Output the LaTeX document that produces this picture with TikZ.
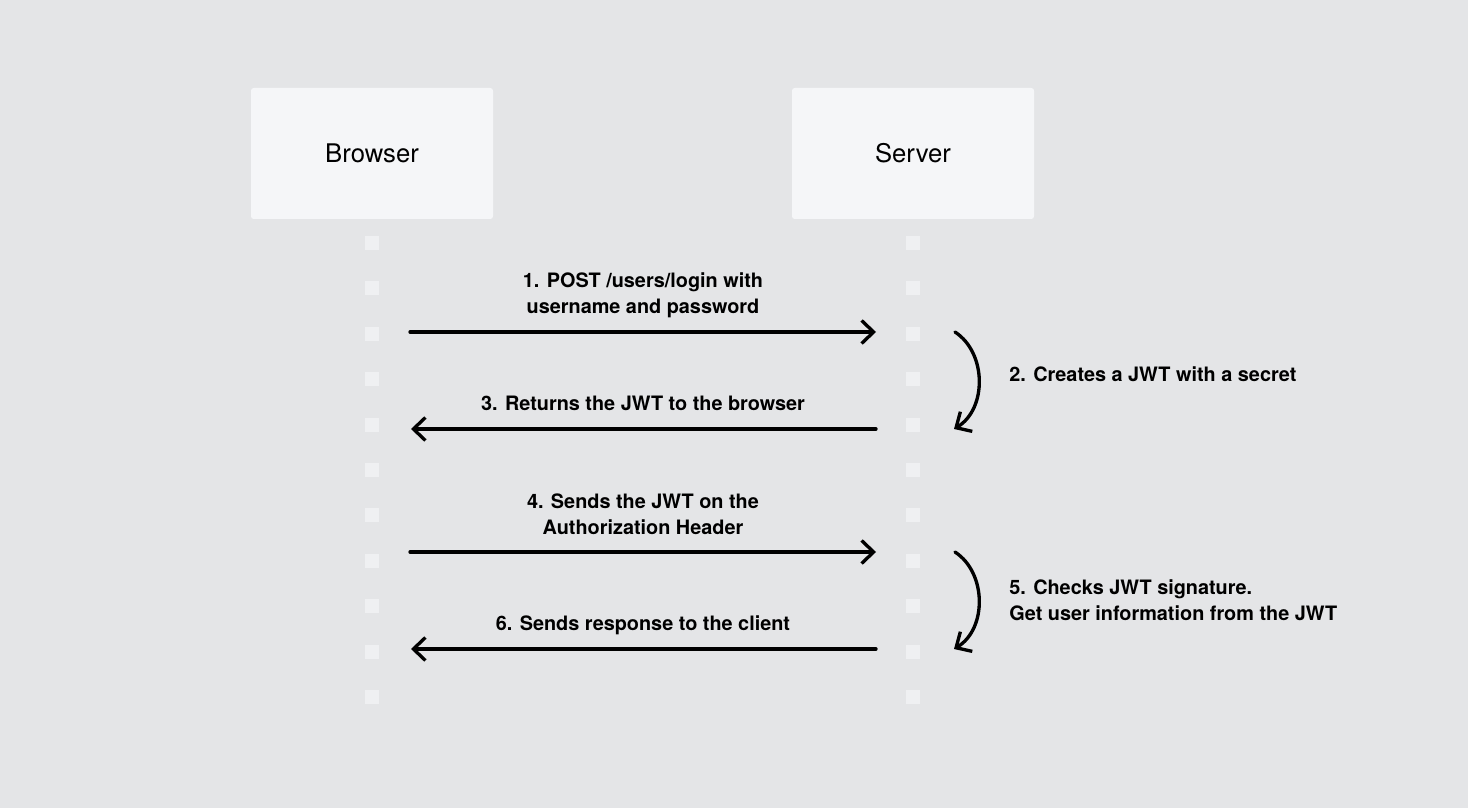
\documentclass[tikz,border=0pt]{standalone}
\usepackage{fontspec}
\setmainfont{TeX Gyre Heros}
\usetikzlibrary{arrows.meta}
\definecolor{pozadina}{HTML}{E4E5E7}
\definecolor{kutija}{HTML}{F5F6F8}
\definecolor{tacka}{HTML}{EFF0F2}
\tikzset{
    actor/.style={fill=kutija, rounded corners=1.5pt, minimum width=4.84cm,
        minimum height=2.62cm, font=\fontsize{14.6}{17}\selectfont},
    msg/.style={-{Straight Barb[length=2.4mm, width=4.6mm]}, line width=1.9pt,
        line cap=round, line join=round},
    msglabel/.style={font=\fontsize{11.3}{14.8}\selectfont\bfseries, align=center},
    notelabel/.style={font=\fontsize{11.3}{14.8}\selectfont\bfseries, align=left,
        anchor=west, inner sep=0pt}
}
\begin{document}
\begin{tikzpicture}
    % pozadina i okvir slike
    \fill [pozadina] (0,0) rectangle (29.36,16.16);
    \useasboundingbox (0,0) rectangle (29.36,16.16);
    % akteri
    \node [actor] (browser) at (7.44,13.09) {Browser};
    \node [actor] (server) at (18.26,13.09) {Server};
    % isprekidane linije zivota
    \foreach \k in {0,...,10}{
        \fill [tacka] (7.30,11.16-\k*0.908) rectangle ++(0.28,0.28);
        \fill [tacka] (18.12,11.16-\k*0.908) rectangle ++(0.28,0.28);
    }
    % krajevi poruka
    \coordinate (b1) at (8.20,9.52);  \coordinate (s1) at (17.52,9.52);
    \coordinate (b3) at (8.22,7.58);  \coordinate (s3) at (17.52,7.58);
    \coordinate (b4) at (8.20,5.12);  \coordinate (s4) at (17.52,5.12);
    \coordinate (b6) at (8.22,3.18);  \coordinate (s6) at (17.52,3.18);
    \coordinate (p2) at (19.10,9.52); \coordinate (k2) at (19.08,7.58);
    \coordinate (p5) at (19.10,5.12); \coordinate (k5) at (19.08,3.18);
    % poruke
    \draw [msg] (b1) -- (s1);
    \draw [msg] (s3) -- (b3);
    \draw [msg] (b4) -- (s4);
    \draw [msg] (s6) -- (b6);
    \draw [msg] (p2) .. controls (19.74,9.10) and (19.74,7.98) .. (k2);
    \draw [msg] (p5) .. controls (19.74,4.70) and (19.74,3.58) .. (k5);
    % oznake poruka
    \node [msglabel] (m1) at (12.86,10.26) {1. POST /users/login with\\username and password};
    \node [notelabel] (m2) at (20.18,8.68) {2. Creates a JWT with a secret};
    \node [msglabel] (m3) at (12.86,8.10) {3. Returns the JWT to the browser};
    \node [msglabel] (m4) at (12.86,5.88) {4. Sends the JWT on the\\Authorization Header};
    \node [notelabel] (m5) at (20.18,4.15) {5. Checks JWT signature.\\Get user information from the JWT};
    \node [msglabel] (m6) at (12.86,3.66) {6. Sends response to the client};
\end{tikzpicture}
\end{document}
